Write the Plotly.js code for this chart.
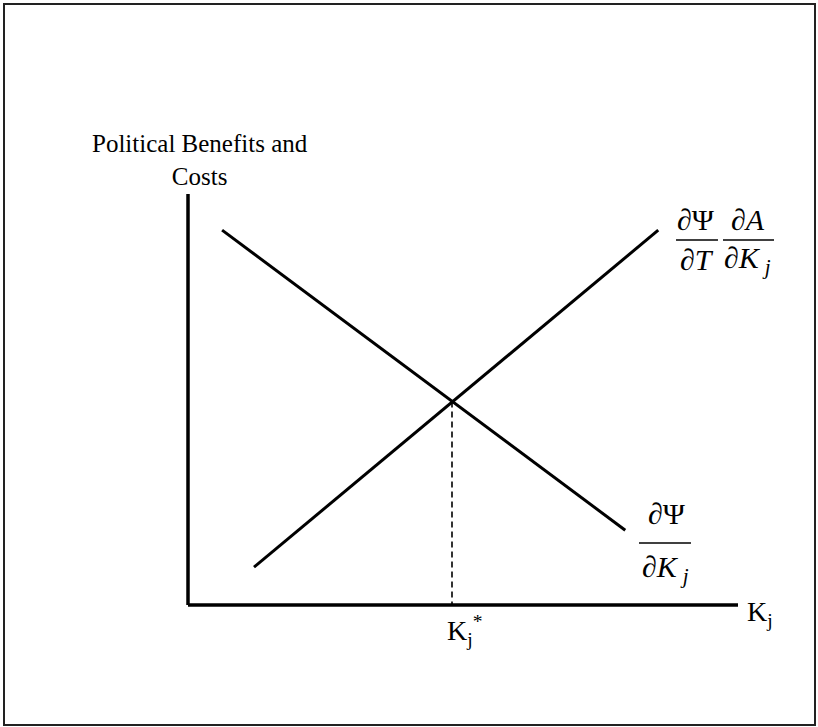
<!DOCTYPE html>
<html>
<head>
<meta charset="utf-8">
<script src="https://cdn.plot.ly/plotly-3.0.1.min.js"></script>
<style>html,body{margin:0;padding:0;background:#fff;}#chart{width:818px;height:727px;}</style>
</head>
<body>
<div id="chart"></div>
<script>
// Conceptual diagram data (arbitrary units, axes run 0..10)
const axisMaxX = 10;
const axisMaxY = 10;
// Marginal political benefit curve dPsi/dK_j (downward sloping)
const benefitX = [0.62, 7.95];
const benefitY = [9.12, 1.82];
// Marginal political cost curve dPsi/dT * dA/dK_j (upward sloping)
const costX = [1.2, 8.55];
const costY = [0.92, 9.12];
// Equilibrium K_j*
const kStarX = [4.8, 4.8];
const kStarY = [4.95, 0];

const serif = '"Liberation Serif", "Times New Roman", serif';
const black = '#000000';

const traces = [
  {x: benefitX, y: benefitY, mode: 'lines', line: {color: black, width: 3}, hoverinfo: 'skip'},
  {x: costX, y: costY, mode: 'lines', line: {color: black, width: 3}, hoverinfo: 'skip'},
  {x: kStarX, y: kStarY, mode: 'lines', line: {color: black, width: 1.6, dash: '6px,4px'}, hoverinfo: 'skip'}
];

const mathFont = {family: serif, size: 30, color: black};

const layout = {
  width: 818, height: 727,
  margin: {l: 0, r: 0, t: 0, b: 0, pad: 0},
  paper_bgcolor: '#ffffff', plot_bgcolor: '#ffffff',
  showlegend: false,
  xaxis: {range: [-188/55, 630/55], visible: false, fixedrange: true},
  yaxis: {range: [-122/41.1, 605/41.1], visible: false, fixedrange: true},
  shapes: [
    // frame
    {type: 'rect', xref: 'paper', yref: 'paper', x0: 4/818, x1: 815/818, y0: 1 - 725/727, y1: 1 - 4/727,
     line: {color: '#222222', width: 2}},
    // axes
    {type: 'line', xref: 'x', yref: 'y', x0: 0, x1: axisMaxX, y0: 0, y1: 0, line: {color: black, width: 3.5}},
    {type: 'line', xref: 'x', yref: 'y', x0: 0, x1: 0, y0: 0, y1: axisMaxY, line: {color: black, width: 3.5}},
    // fraction bars
    {type: 'line', xref: 'x', yref: 'y', x0: 8.873, x1: 9.636, y0: 8.881, y1: 8.881, line: {color: black, width: 1.5}},
    {type: 'line', xref: 'x', yref: 'y', x0: 9.727, x1: 10.655, y0: 8.881, y1: 8.881, line: {color: black, width: 1.5}},
    {type: 'line', xref: 'x', yref: 'y', x0: 8.2, x1: 9.145, y0: 1.509, y1: 1.509, line: {color: black, width: 1.5}}
  ],
  annotations: [
    {x: 0.22, y: 10.82, xref: 'x', yref: 'y', text: 'Political Benefits and<br>Costs', showarrow: false,
     xanchor: 'center', yanchor: 'middle', align: 'center', font: {family: serif, size: 25, color: black}},
    {x: 10.12, y: -0.2, xref: 'x', yref: 'y', text: 'K<sub>j</sub>', showarrow: false,
     xanchor: 'left', yanchor: 'middle', font: {family: serif, size: 28, color: black}},
    {x: 5.02, y: -0.1, xref: 'x', yref: 'y', text: 'K<sub>j</sub><sup>*</sup>', showarrow: false,
     xanchor: 'center', yanchor: 'top', font: {family: serif, size: 28, color: black}},
    // top fraction: dPsi/dT * dA/dK_j
    {x: 9.236, y: 9.38, xref: 'x', yref: 'y', text: '∂Ψ', showarrow: false, xanchor: 'center', yanchor: 'middle', font: mathFont},
    {x: 9.255, y: 8.4, xref: 'x', yref: 'y', text: '∂<i>T</i>', showarrow: false, xanchor: 'center', yanchor: 'middle', font: mathFont},
    {x: 10.18, y: 9.38, xref: 'x', yref: 'y', text: '∂<i>A</i>', showarrow: false, xanchor: 'center', yanchor: 'middle', font: mathFont},
    {x: 10.17, y: 8.4, xref: 'x', yref: 'y', text: '∂<i>K</i>\u2009<sub><i>j</i></sub>', showarrow: false, xanchor: 'center', yanchor: 'middle', font: mathFont},
    // lower fraction: dPsi/dK_j
    {x: 8.71, y: 2.22, xref: 'x', yref: 'y', text: '∂Ψ', showarrow: false, xanchor: 'center', yanchor: 'middle', font: mathFont},
    {x: 8.69, y: 0.88, xref: 'x', yref: 'y', text: '∂<i>K</i>\u2009<sub><i>j</i></sub>', showarrow: false, xanchor: 'center', yanchor: 'middle', font: mathFont}
  ]
};

Plotly.newPlot('chart', traces, layout, {displayModeBar: false});
</script>
</body>
</html>
